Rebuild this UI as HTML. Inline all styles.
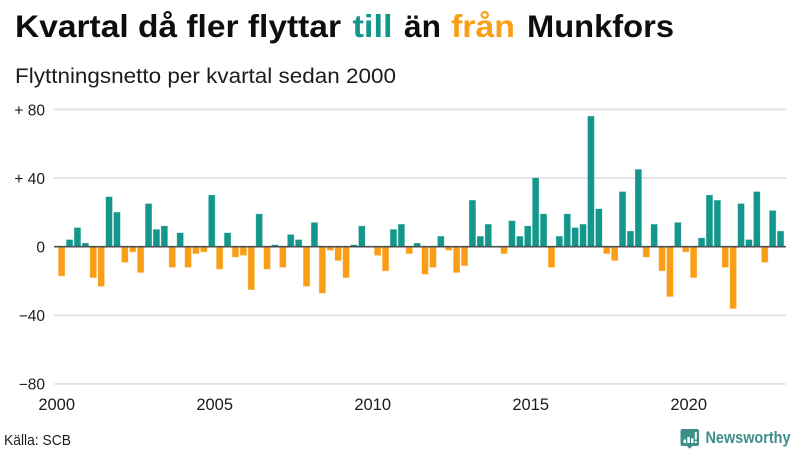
<!DOCTYPE html>
<html lang="sv">
<head>
<meta charset="utf-8">
<title>Kvartal då fler flyttar till än från Munkfors</title>
<style>
html,body{margin:0;padding:0;background:#fff;width:800px;height:450px;overflow:hidden}
svg{display:block}
text{font-family:"Liberation Sans","DejaVu Sans",sans-serif}
</style>
</head>
<body>
<svg id="chart" width="800" height="450" viewBox="0 0 800 450" xmlns="http://www.w3.org/2000/svg">
  <g font-size="31.5" font-weight="700" fill="#0e0e0e">
    <text x="15" y="37" textLength="326" lengthAdjust="spacingAndGlyphs">Kvartal då fler flyttar</text>
    <text x="352.5" y="37" textLength="40" lengthAdjust="spacingAndGlyphs" fill="#12978a">till</text>
    <text x="404" y="37" textLength="37" lengthAdjust="spacingAndGlyphs">än</text>
    <text x="451" y="37" textLength="64" lengthAdjust="spacingAndGlyphs" fill="#fb9e17">från</text>
    <text x="527" y="37" textLength="147" lengthAdjust="spacingAndGlyphs">Munkfors</text>
  </g>
  <text x="15" y="83" font-size="21.5" fill="#1c1c1c" textLength="381" lengthAdjust="spacingAndGlyphs">Flyttningsnetto per kvartal sedan 2000</text>
  <g id="grid"></g>
  <g id="yLabels"></g>
  <g id="bars"></g>
  <line id="zero" stroke="#4a4f55" stroke-width="1.6"></line>
  <g id="xLabels"></g>
  <text x="4" y="445" font-size="15" fill="#1c1c1c" textLength="67" lengthAdjust="spacingAndGlyphs">Källa: SCB</text>
  <g>
    <path d="M682.500 429h14.500a2 2 0 0 1 2 2v13a2 2 0 0 1-2 2h-4.500l-2.800 2.800-2.800-2.800h-4.400a2 2 0 0 1-2-2v-13a2 2 0 0 1 2-2z" fill="#3d8f88"></path>
    <path d="M683.500 443v-3.500h2.500v3.500zM687.300 443v-6h2.500v6zM691 443v-4.500h2.500v4.500zM694.800 443v-2h2v2zM694.800 439.500v-7.500h2v7.500z" fill="#fff"></path>
    <text x="705.500" y="443" font-size="16.500" font-weight="700" fill="#3d8f88" textLength="85" lengthAdjust="spacingAndGlyphs">Newsworthy</text>
  </g>
</svg>
<script>
const startYear = 2000;
const netMigration = [
  -17, 4, 11, 2,
  -18, -23, 29, 20,
  -9, -3, -15, 25,
  10, 12, -12, 8,
  -12, -4, -3, 30,
  -13, 8, -6, -5,
  -25, 19, -13, 1,
  -12, 7, 4, -23,
  14, -27, -2, -8,
  -18, 1, 12, 0,
  -5, -14, 10, 13,
  -4, 2, -16, -12,
  6, -2, -15, -11,
  27, 6, 13, 0,
  -4, 15, 6, 12,
  40, 19, -12, 6,
  19, 11, 13, 76,
  22, -4, -8, 32,
  9, 45, -6, 13,
  -14, -29, 14, -3,
  -18, 5, 30, 27,
  -12, -36, 25, 4,
  32, -9, 21, 9
];
const yTicks = [80, 40, 0, -40, -80];
const yTickLabels = ['+ 80', '+ 40', '0', '−40', '−80'];
const xTicks = [2000, 2005, 2010, 2015, 2020];

const NS = 'http://www.w3.org/2000/svg';
const plotLeft = 54, plotRight = 786;
function yScale(v) { return 246.7 - v * 1.7156; }
function xScale(t) { return 57.7 + (t - startYear) * 31.6; }
function make(tag, attrs, parent) {
  const el = document.createElementNS(NS, tag);
  for (const k in attrs) el.setAttribute(k, attrs[k]);
  parent.appendChild(el);
  return el;
}
const gridG = document.getElementById('grid');
const yG = document.getElementById('yLabels');
yTicks.forEach(function (v, i) {
  const y = yScale(v);
  if (v !== 0) {
    const line = make('line', { x1: plotLeft, x2: plotRight, y1: y, y2: y, stroke: '#e3e3ea', 'stroke-width': 1.8 }, gridG);
    
    
  }
  const t = make('text', { x: 45, y: y + 5.800, 'font-size': 15.5, fill: '#1c1c1c', 'text-anchor': 'end' }, yG);
  t.textContent = yTickLabels[i];
  
  
});
const barG = document.getElementById('bars');
netMigration.forEach(function (v, i) {
  const cx = xScale(startYear + (i + 0.5) / 4);
  const y0 = yScale(0), y1 = yScale(v);
  const color = v >= 0 ? '#12978a' : '#fb9e17';
  const rect = make('rect', {
    x: cx - 3.100, width: 6.200,
    y: Math.min(y0, y1), height: Math.abs(y1 - y0),
    fill: color, stroke: color, 'stroke-opacity': 0.4, 'stroke-width': 0.8
  }, barG);
  
  
});
const zero = document.getElementById('zero');
zero.setAttribute('x1', plotLeft);
zero.setAttribute('x2', plotRight);
zero.setAttribute('y1', yScale(0));
zero.setAttribute('y2', yScale(0));
const xG = document.getElementById('xLabels');
xTicks.forEach(function (yr) {
  const t = make('text', { x: xScale(yr) - 1, y: 410, 'font-size': 16.5, fill: '#1c1c1c', 'text-anchor': 'middle' }, xG);
  t.textContent = yr;
  
  
});
</script>
</body>
</html>
